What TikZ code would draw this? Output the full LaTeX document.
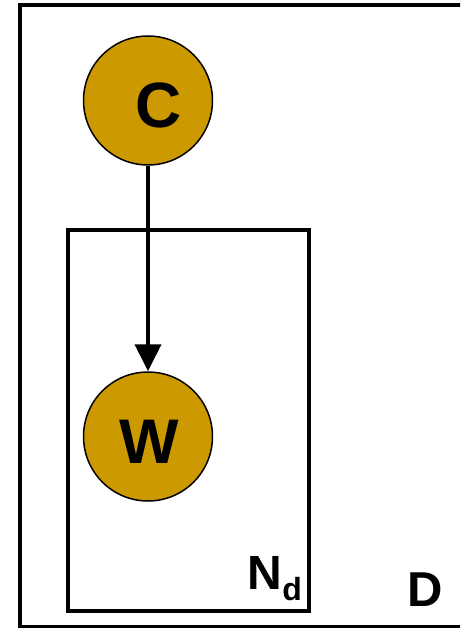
\documentclass[tikz,border=0pt]{standalone}
\usepackage{fontspec}
\setmainfont{Liberation Sans}
\usetikzlibrary{arrows.meta}
\definecolor{nodegold}{RGB}{204,153,0}
\tikzset{
  varnode/.style={circle, draw=black, line width=1.5pt, fill=nodegold, minimum size=129pt, inner sep=0pt},
  plate/.style={draw=black, line width=4pt},
  outerplate/.style={draw=black, line width=3.5pt},
  bigletter/.style={inner sep=0pt, anchor=base, font=\bfseries\fontsize{64}{64}\selectfont},
  platelabel/.style={inner sep=0pt, anchor=base west, font=\bfseries\fontsize{48}{48}\selectfont},
  edge/.style={line width=4pt, -{Triangle[width=26pt,length=27pt]}}
}
\begin{document}
\begin{tikzpicture}[x=1pt,y=-1pt]
\useasboundingbox (0,0) rectangle (460,628);
\clip (0,0) rectangle (460,628);
% outer plate D (right edge lies outside the picture)
\draw[outerplate] (20,5) rectangle (490,626.5);
% inner plate N_d
\draw[plate] (68.3,229.7) rectangle (308.5,610.5);
% variable nodes
\node[varnode] (c) at (148,100.5) {};
\node[varnode] (w) at (148,436.5) {};
\node[bigletter] (clabel) at (158.5,128) {C};
\node[bigletter, font=\bfseries\fontsize{63}{63}\selectfont] (wlabel) at (149,463) {W};
% edge
\draw[edge] (c.south) -- (w.north);
% plate labels
\node[platelabel] (nd) at (247,589.3) {N\hspace{0.5pt}\raisebox{-11.4pt}{\fontsize{32}{32}\selectfont d}};
\node[platelabel, font=\bfseries\fontsize{49}{49}\selectfont] (dlabel) at (407,606.7) {D};
\end{tikzpicture}
\end{document}
